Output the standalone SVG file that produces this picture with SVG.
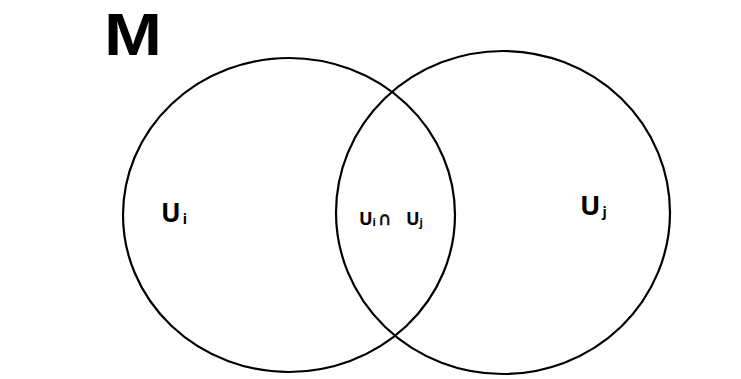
<svg xmlns="http://www.w3.org/2000/svg" width="741" height="379" viewBox="0 0 741 379">
<style>
.c{fill:none;stroke:#000;stroke-width:2.2}
.t{font-family:"Open Sans","Liberation Sans",sans-serif;font-weight:700;fill:#000}
.m{font-family:"Liberation Sans",sans-serif;font-weight:700;fill:#000}
.s{font-family:"DejaVu Sans",sans-serif;font-weight:400}
</style>
<rect width="741" height="379" fill="#fff"/>
<g id="label-M"><text class="m" x="104" y="55" font-size="60" textLength="58" lengthAdjust="spacingAndGlyphs">M</text></g>
<g id="set-Ui">
<ellipse class="c" cx="289" cy="215" rx="166" ry="157"/>
<text class="t" x="161" y="222" font-size="26">U<tspan font-size="14" dy="2" dx="2">i</tspan></text>
</g>
<g id="set-Uj">
<ellipse class="c" cx="503" cy="212.5" rx="167" ry="161.5"/>
<text class="t" x="580" y="215" font-size="27">U<tspan font-size="14" dy="2" dx="2">j</tspan></text>
</g>
<g id="intersection">
<text class="t" x="359" y="225" font-size="18">U<tspan font-size="11" dy="1">i</tspan></text>
<text class="t s" x="378" y="225" font-size="18" stroke="#000" stroke-width="0.5">∩</text>
<text class="t" x="406" y="225" font-size="18">U<tspan font-size="11" dy="1">j</tspan></text>
</g>
<g id="connectors"/>
</svg>
